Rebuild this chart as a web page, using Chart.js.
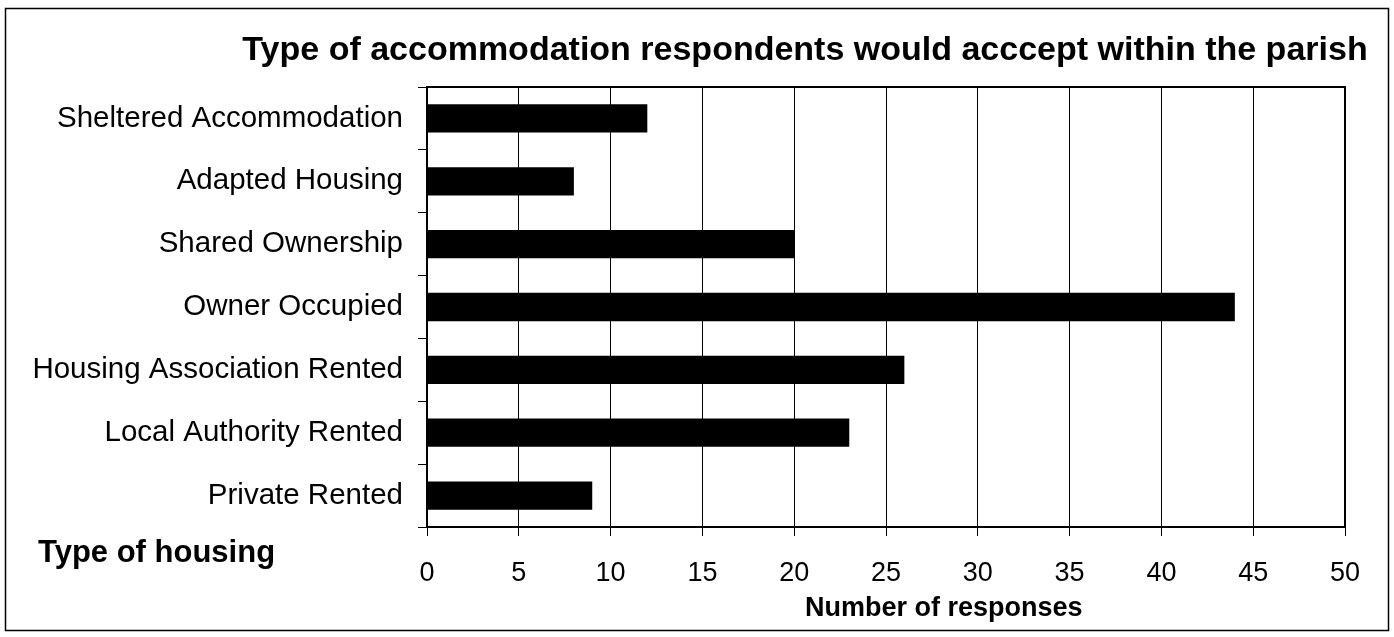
<!DOCTYPE html>
<html>
<head>
<meta charset="utf-8">
<script src="https://cdn.jsdelivr.net/npm/chart.js@4.4.1/dist/chart.umd.min.js"></script>
<style>
html,body{margin:0;padding:0;background:#fff;}
#wrap{position:relative;width:1394px;height:637px;}
</style>
</head>
<body>
<div id="wrap"><canvas id="c" width="1394" height="637"></canvas></div>
<script>
const categories = ["Sheltered Accommodation","Adapted Housing","Shared Ownership","Owner Occupied","Housing Association Rented","Local Authority Rented","Private Rented"];
const responses = [12, 8, 20, 44, 26, 23, 9];
const xTicks = [0,5,10,15,20,25,30,35,40,45,50];
const chartTitle = "Type of accommodation respondents would acccept within the parish";
const yTitle = "Type of housing";
const xTitle = "Number of responses";

const FONT = "'Liberation Sans', Arial, sans-serif";

const decor = {
  id: 'decor',
  beforeDraw(chart) {
    const ctx = chart.ctx;
    ctx.save();
    ctx.fillStyle = '#fff';
    ctx.fillRect(0, 0, chart.width, chart.height);
    ctx.restore();
  },
  afterDraw(chart) {
    const ctx = chart.ctx;
    const a = chart.chartArea;
    ctx.save();
    ctx.strokeStyle = '#000';
    ctx.lineWidth = 1.5;
    ctx.strokeRect(5.5, 8.5, 1383, 622);
    ctx.lineWidth = 2;
    ctx.strokeRect(a.left, a.top, a.right - a.left, a.bottom - a.top);
    ctx.fillStyle = '#000';
    ctx.textBaseline = 'alphabetic';
    ctx.font = "bold 34px " + FONT;
    ctx.textAlign = 'center';
    ctx.fillText(chartTitle, 805, 60);
    ctx.font = "bold 31px " + FONT;
    ctx.textAlign = 'left';
    ctx.fillText(yTitle, 38, 562);
    ctx.font = "bold 27px " + FONT;
    ctx.textAlign = 'left';
    ctx.fillText(xTitle, 805, 616);
    ctx.restore();
  }
};

new Chart(document.getElementById('c'), {
  type: 'bar',
  data: {
    labels: categories,
    datasets: [{
      data: responses,
      backgroundColor: '#000',
      borderWidth: 0,
      barPercentage: 0.45,
      categoryPercentage: 1
    }]
  },
  options: {
    indexAxis: 'y',
    responsive: false,
    animation: false,
    layout: { padding: { left: 0, right: 49, top: 87, bottom: 0 } },
    plugins: { legend: { display: false }, tooltip: { enabled: false }, title: { display: false } },
    scales: {
      x: {
        min: 0, max: 50,
        afterBuildTicks(scale) { scale.ticks = xTicks.map(v => ({ value: v })); },
        afterFit(scale) { scale.height = 110; },
        grid: { color: '#000', lineWidth: 1, tickLength: 9, drawTicks: true },
        border: { color: '#000', width: 2 },
        ticks: { color: '#000', font: { family: FONT, size: 27 }, padding: 21, maxRotation: 0 }
      },
      y: {
        afterFit(scale) { scale.width = 427; },
        grid: { offset: true, drawOnChartArea: false, color: '#000', lineWidth: 1, tickLength: 9 },
        border: { color: '#000', width: 2 },
        ticks: { color: '#000', font: { family: FONT, size: 29.5 }, padding: 15 }
      }
    }
  },
  plugins: [decor]
});
</script>
</body>
</html>
